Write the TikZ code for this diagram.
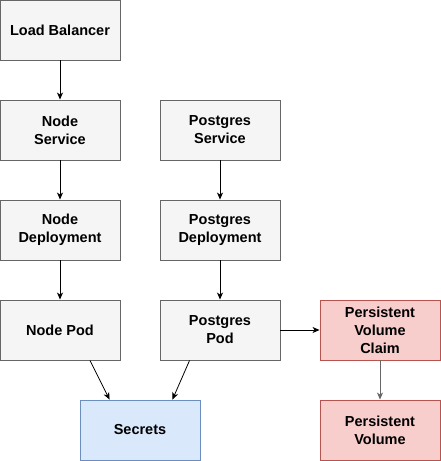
\documentclass[tikz,border=0pt]{standalone}
\usepackage{fontspec}
\setmainfont{Liberation Sans}
\usetikzlibrary{positioning, arrows.meta, calc}
\definecolor{boxfill}{HTML}{F5F5F5}
\definecolor{boxline}{HTML}{666666}
\definecolor{secfill}{HTML}{DAE8FC}
\definecolor{secline}{HTML}{6C8EBF}
\definecolor{volfill}{HTML}{F8CECC}
\definecolor{volline}{HTML}{B85450}
\begin{document}
\begin{tikzpicture}[x=1pt, y=-1pt]
            \tikzset{box/.style = {draw=boxline, fill=boxfill, line width=0.9pt, minimum width=120pt, minimum height=60pt, align=center, font=\fontsize{14.5}{18}\selectfont\bfseries, inner sep=0pt}}
            \tikzset{secretbox/.style = {box, draw=secline, fill=secfill}}
            \tikzset{volbox/.style = {box, draw=volline, fill=volfill}}
            \tikzset{link/.style = {-{Stealth[length=7pt, width=6pt, inset=2pt]}, line width=0.8pt}}
            \useasboundingbox (0,0) rectangle (441,461);

            \node[box] (lb) at (60,30) {Load Balancer};
            \node[box] (nodesvc) at (60,130) {Node\\Service};
            \node[box] (nodedep) at (60,230) {Node\\Deployment};
            \node[box] (nodepod) at (60,330) {Node Pod};
            \node[box] (pgsvc) at (220,130) {Postgres\\Service};
            \node[box] (pgdep) at (220,230) {Postgres\\Deployment};
            \node[box] (pgpod) at (220,330) {Postgres\\Pod};
            \node[volbox] (pvc) at (380,330) {Persistent\\Volume\\Claim};
            \node[volbox] (pv) at (380,430) {Persistent\\Volume};
            \node[secretbox] (secrets) at (140,430) {Secrets};

            % arrows
            \draw[link] (lb) -- (nodesvc);
            \draw[link] (nodesvc) -- (nodedep);
            \draw[link] (nodedep) -- (nodepod);
            \draw[link] (pgsvc) -- (pgdep);
            \draw[link] (pgdep) -- (pgpod);
            \draw[link] (pgpod) -- (pvc);
            \draw[link, boxline] (pvc) -- (pv);

            % secrets
            \draw[link] ($(nodepod.south)+(30,0)$) -- ($(secrets.north west)+(30,0)$);
            \draw[link] ($(pgpod.south west)+(30,0)$) -- ($(secrets.north east)+(-28,0)$);
\end{tikzpicture}
\end{document}
